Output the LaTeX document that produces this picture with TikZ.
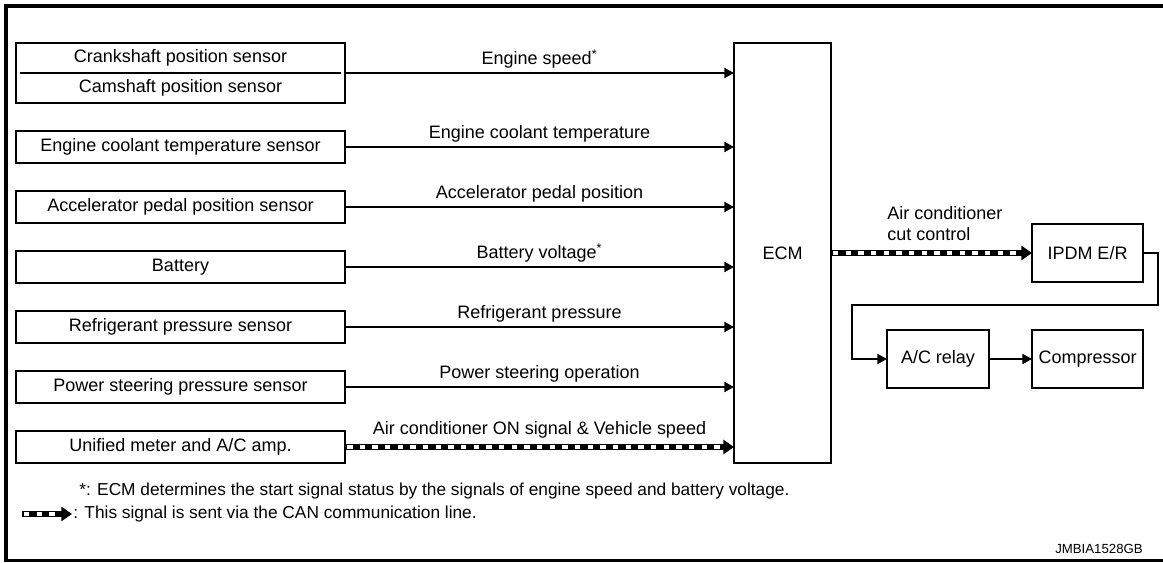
\documentclass[tikz,border=0pt]{standalone}
\usepackage{fontspec}
\setmainfont{Liberation Sans}
\usepackage{tikz}
\usetikzlibrary{arrows.meta,positioning,calc}

\begin{document}
\begin{tikzpicture}[
  x=0.025cm, y=-0.025cm,
  font=\fontsize{12.8}{15}\selectfont,
  sensor/.style={
    rectangle, draw, line width=0.9pt,
    minimum width=8.225cm, minimum height=0.8cm,
    inner sep=0pt, outer sep=0pt
  },
  unit/.style={
    rectangle, draw, line width=0.9pt,
    minimum width=#1, minimum height=1.45cm,
    inner sep=0pt, outer sep=0pt
  },
  arr/.style={-{Triangle[length=6.8pt, width=7.2pt]}, line width=0.9pt},
  canarr/.style={
    -{Triangle[length=7.6pt, width=10pt]}, line width=4.8pt,
    postaction={draw=white, -, line width=2.4pt,
      dash pattern=on 3.8pt off 5.2pt, shorten >=8pt, shorten <=1.5pt}
  },
  sig/.style={midway, above, inner sep=2.8pt},
  notetext/.style={anchor=west, inner sep=0pt, font=\fontsize{12.3}{15}\selectfont}
]
\useasboundingbox (0,0) rectangle (1163,563);
\draw[line width=2.2pt] (1163,6) -- (6,6) -- (6,560.5) -- (1163,560.5);

% sensors on the left
\node[sensor, minimum height=1.5cm] (sensors) at (180.5,73) {};
\node (crank) at (180.5,58) {Crankshaft position sensor};
\node (cam) at (180.5,88) {Camshaft position sensor};
\draw[line width=0.8pt] ([xshift=0.1cm]sensors.west) -- ([xshift=-0.1cm]sensors.east);
\node[sensor] (coolant) at (180.5,147) {Engine coolant temperature sensor};
\node[sensor] (accel) at (180.5,207) {Accelerator pedal position sensor};
\node[sensor] (battery) at (180.5,267) {Battery};
\node[sensor] (refrig) at (180.5,327) {Refrigerant pressure sensor};
\node[sensor] (steering) at (180.5,387) {Power steering pressure sensor};
\node[sensor] (meter) at (180.5,447) {Unified meter and A/C amp.};

\node[unit=2.425cm, minimum height=10.5cm] (ecm) at (782.5,253) {ECM};
\node[unit=2.775cm] (ipdm) at (1087.5,253) {IPDM E/R};
\node[unit=2.55cm] (relay) at (938,359) {A/C relay};
\node[unit=2.775cm] (comp) at (1087.5,359) {Compressor};

\draw[arr] (sensors) -- (sensors -| ecm.west) node[sig] {Engine speed\textsuperscript{*}};
\draw[arr] (coolant) -- (coolant -| ecm.west) node[sig] {Engine coolant temperature};
\draw[arr] (accel) -- (accel -| ecm.west) node[sig] {Accelerator pedal position};
\draw[arr] (battery) -- (battery -| ecm.west) node[sig] {Battery voltage\textsuperscript{*}};
\draw[arr] (refrig) -- (refrig -| ecm.west) node[sig] {Refrigerant pressure};
\draw[arr] (steering) -- (steering -| ecm.west) node[sig] {Power steering operation};
\draw[canarr] (meter) -- (meter -| ecm.west) node[sig, inner sep=4pt] {Air conditioner ON signal \& Vehicle speed};

\draw[canarr] (ecm) -- (ipdm);
\node[anchor=south west, inner sep=0pt, align=left] (cutlbl) at (887,241) {Air conditioner\\cut control};
\coordinate (ipdmOut) at (1158,253);
\coordinate (loopR) at (1158,305);
\coordinate (loopL) at (852,305);
\coordinate (relayIn) at (852,359);
\draw[arr] (ipdm.east) -- (ipdmOut) -- (loopR) -- (loopL) -- (relayIn) -- (relay.west);
\draw[arr] (relay) -- (comp);

% notes
\node[notetext] (note) at (79,491) {*: ECM determines the start signal status by the signals of engine speed and battery voltage.};
\coordinate (keyA) at (22,514);
\coordinate (keyB) at (72,514);
\draw[canarr] (keyA) -- (keyB);
\node[notetext] (keytext) at (73,514) {: This signal is sent via the CAN communication line.};
\node[anchor=east, inner sep=0pt, font=\fontsize{9.4}{11}\selectfont] (figid) at (1143,549) {JMBIA1528GB};
\end{tikzpicture}
\end{document}
